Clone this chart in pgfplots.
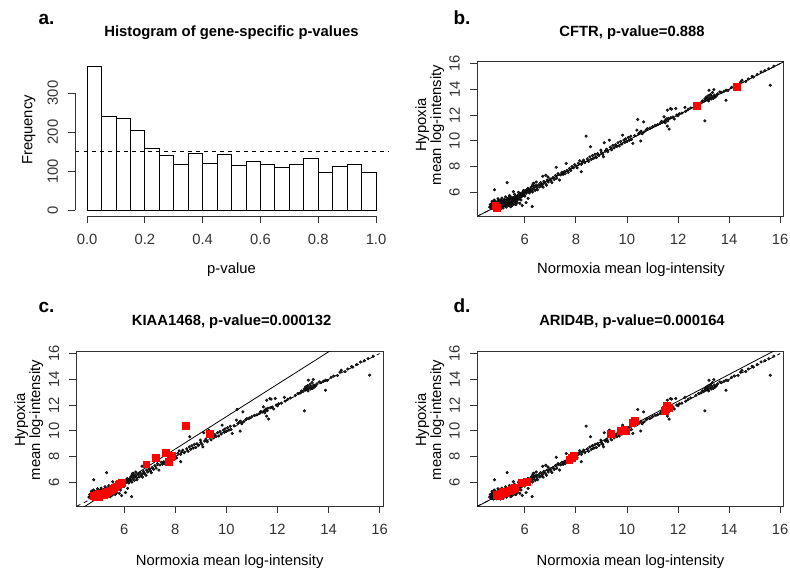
\documentclass[border=0pt]{standalone}
\usepackage{fontspec}
\setmainfont{Liberation Sans}
\usepackage{pgfplots}
\usepackage{pgfplotstable}
\pgfplotsset{compat=1.18}
\newcommand\txt{\fontsize{14.8}{17}\selectfont}
\newcommand\lett{\fontsize{19}{22}\selectfont\bfseries}
\definecolor{axgray}{gray}{0.2}
\pgfplotstableread{
x y
4.62 4.85
4.65 5.05
4.68 4.92
4.70 5.12
4.72 4.98
4.74 4.80
4.76 5.20
4.78 5.02
4.80 4.90
4.81 5.15
4.83 5.30
4.85 5.00
4.86 4.82
4.88 5.10
4.90 5.22
4.91 4.95
4.93 5.05
4.95 4.75
4.96 5.35
4.98 5.12
5.00 4.92
5.01 5.25
5.03 5.02
5.04 4.80
5.06 5.18
5.08 5.40
5.09 5.00
5.11 5.12
5.12 4.85
5.14 5.30
5.16 5.05
5.17 5.20
5.19 4.95
5.20 5.45
5.22 5.10
5.23 5.28
5.25 4.90
5.27 5.15
5.28 5.35
5.30 5.05
5.31 5.22
5.33 5.50
5.35 5.00
5.36 5.30
5.38 5.15
5.40 5.42
5.41 5.08
5.43 5.25
5.45 5.55
5.46 5.18
5.48 5.35
5.50 5.10
5.52 5.45
5.53 5.28
5.55 5.60
5.57 5.22
5.58 5.40
5.60 5.52
5.62 5.30
5.64 5.65
5.66 5.45
5.68 5.58
5.70 5.35
5.72 5.70
5.74 5.52
5.76 5.80
5.78 5.62
5.80 5.48
5.82 5.75
5.85 5.90
5.87 5.65
5.90 5.82
5.92 6.00
5.95 5.75
5.98 5.92
4.75 5.08
4.84 5.18
4.92 5.12
4.99 5.02
5.05 5.10
5.10 5.28
5.15 5.12
5.18 5.38
5.21 5.02
5.26 5.25
5.29 5.12
5.34 5.40
5.39 5.28
5.44 5.38
5.49 5.48
5.54 5.38
5.59 5.62
5.63 5.50
5.69 5.70
5.73 5.62
5.79 5.85
5.84 5.70
4.87 5.25
4.97 4.88
5.07 4.95
5.13 5.22
5.24 5.38
5.32 5.30
5.42 5.18
5.47 5.62
5.56 5.50
5.65 5.38
5.77 5.72
5.89 5.95
5.02 5.35
5.37 5.58
4.70 4.75
4.78 4.70
4.89 4.72
5.05 4.70
5.15 4.78
5.28 4.85
5.40 4.95
5.52 5.00
5.60 5.10
5.70 5.20
5.85 5.40
4.72 5.30
4.80 5.40
4.95 5.50
5.10 5.55
5.25 5.65
5.40 5.75
5.60 5.85
5.75 6.00
5.95 6.15
6.00 5.70
5.45 4.88
5.65 5.05
4.81 6.20
5.31 6.75
5.90 4.97
6.29 4.89
6.13 5.53
6.05 5.20
5.55 6.05
5.74 5.79
5.81 5.14
6.35 6.70
6.45 6.80
6.30 6.55
6.02 6.10
6.05 5.92
6.08 6.20
6.10 6.05
6.12 6.30
6.15 6.12
6.18 5.95
6.20 6.25
6.22 6.10
6.25 6.40
6.28 6.18
6.30 6.02
6.33 6.69
6.35 6.30
6.38 6.45
6.40 6.15
6.44 6.55
6.48 6.35
6.50 6.20
6.70 7.25
6.82 7.32
6.90 7.20
6.55 6.60
6.58 6.42
6.62 6.75
6.65 6.50
6.70 6.62
6.72 6.40
6.75 6.85
6.80 6.70
6.85 6.55
6.88 6.95
6.92 6.80
6.98 7.05
7.02 6.90
7.06 6.75
7.10 7.15
7.15 7.00
7.20 7.30
7.23 7.94
7.25 7.10
7.30 7.45
7.36 6.95
7.40 7.35
7.45 7.55
7.50 7.40
7.55 7.60
7.58 7.45
7.62 8.24
7.65 7.70
7.70 7.55
7.75 7.85
7.80 7.70
7.85 8.00
7.90 7.90
7.95 8.15
8.00 8.05
8.05 7.90
8.10 8.25
8.15 8.45
8.21 8.17
8.21 7.60
8.25 8.35
8.30 8.50
8.35 8.30
8.40 10.36
8.45 8.60
8.50 8.40
8.55 8.75
8.57 9.54
8.60 8.55
8.65 8.85
8.70 8.65
8.75 8.95
8.80 8.70
8.85 9.00
8.90 8.85
8.98 9.28
9.00 9.10
9.05 8.95
9.08 8.76
9.11 9.85
9.15 9.20
9.20 9.35
9.25 9.15
9.31 10.05
9.35 9.50
9.40 9.30
9.45 9.65
9.50 9.45
9.55 9.70
9.60 9.55
9.65 9.85
9.70 9.60
9.75 9.95
9.80 9.75
9.83 10.44
9.88 10.05
9.92 9.88
9.95 10.15
10.00 9.95
10.05 10.25
10.10 10.05
10.15 10.35
10.18 10.10
10.23 9.80
10.30 10.40
10.39 10.83
10.42 11.66
10.45 10.55
10.50 10.65
10.54 9.98
10.55 10.75
10.60 10.55
10.65 11.47
10.67 10.70
10.75 10.85
10.80 10.95
10.90 11.00
11.00 11.10
11.10 11.20
11.20 11.25
11.30 11.35
11.35 11.50
11.40 11.45
11.45 11.86
11.48 11.55
11.50 11.40
11.52 11.60
11.55 11.70
11.58 11.14
11.58 12.38
11.60 11.55
11.62 11.75
11.65 10.91
11.70 12.50
11.72 11.80
11.75 12.46
11.80 11.85
11.85 11.70
11.91 12.51
11.95 12.00
12.00 11.95
12.05 12.10
12.15 12.15
12.27 12.60
12.30 12.30
12.40 12.45
12.50 12.55
12.70 12.75
12.80 12.90
12.90 12.95
12.95 13.10
13.00 13.05
13.05 11.55
13.05 13.25
13.08 13.16
13.10 13.40
13.12 13.20
13.15 13.30
13.18 13.50
13.20 13.10
13.21 13.93
13.24 13.35
13.27 13.60
13.30 13.25
13.32 13.45
13.35 13.75
13.38 13.30
13.40 13.98
13.42 13.55
13.45 13.40
13.50 13.50
13.55 13.65
13.64 13.80
13.70 13.75
13.80 13.85
13.88 13.93
13.88 13.15
13.95 13.90
14.10 14.15
14.20 14.25
14.35 14.30
14.45 14.55
14.50 14.70
14.65 14.60
14.75 14.80
14.90 15.00
14.95 14.95
15.10 15.15
15.25 15.35
15.40 15.45
15.55 15.60
15.61 14.32
15.75 15.80
}\pts
\pgfplotsset{
  base/.style={
    scale only axis, anchor=south west,
    /pgf/number format/assume math mode=true,
    tick align=outside, tick pos=left,
    major tick length=7.3pt,
    tick style={axgray, line width=0.8pt},
    ticklabel style={font=\txt, text=axgray, inner sep=0pt},
    xticklabel style={anchor=north, yshift=-10.7pt},
    yticklabel style={xshift=-10pt, rotate=90, anchor=south},
  },
  scat/.style={base, width=306.5pt, height=154.5pt,
    xmin=4.14, xmax=16.14, ymin=4.16, ymax=16.16,
    xtick={6,8,10,12,14,16}, ytick={6,8,10,12,14,16},
    axis line style={axgray, line width=0.8pt},
  },
  blk/.style={only marks, black, mark=*, mark size=1.35pt, mark options={fill=black!85, draw=none}},
  redsq/.style={only marks, red, mark=square*, mark size=3.4pt, mark options={fill=red, draw=red, line width=0pt}},
  dsh/.style={black, line width=0.8pt, dash pattern=on 4pt off 4pt},
  sld/.style={black, line width=0.8pt},
}
\begin{document}
\begin{tikzpicture}[x=1pt,y=1pt]
\useasboundingbox (0,0) rectangle (790,574);
% ---- a. histogram
\begin{axis}[base, at={(75.5pt,358pt)}, width=312.1pt, height=155.4pt,
  xmin=-0.04, xmax=1.04, ymin=-14.72, ymax=382.72,
  axis lines*=left, axis line style={draw=none},
  xtick={0,0.2,0.4,0.6,0.8,1}, xticklabels={0.0,0.2,0.4,0.6,0.8,1.0},
  ytick={0,100,200,300}, clip=false]
\addplot[ybar, bar width=0.05, fill=white, draw=black, line width=0.8pt] coordinates {
(0.025,368) (0.075,240) (0.125,234) (0.175,203) (0.225,158) (0.275,141) (0.325,118) (0.375,145) (0.425,120) (0.475,143)
(0.525,115) (0.575,126) (0.625,117) (0.675,110) (0.725,118) (0.775,132) (0.825,97) (0.875,112) (0.925,117) (0.975,97)};
\addplot[dsh] coordinates {(-0.04,150) (1.04,150)};
\draw[axgray, line width=0.8pt] (axis cs:0,-14.72) -- (axis cs:1,-14.72);
\draw[axgray, line width=0.8pt] (axis cs:-0.04,0) -- (axis cs:-0.04,300);
\end{axis}
% ---- b.
\begin{axis}[scat, at={(477.3pt,358pt)}]
\addplot[blk] table {\pts};
\addplot[dsh] coordinates {(4.14,4.14) (16,16)};
\addplot[sld] coordinates {(4.14,4.14) (16.14,16.14)};
\addplot[redsq] coordinates {(4.85,4.95) (4.92,4.80) (12.75,12.72) (14.32,14.19)};
\end{axis}
% ---- c.
\begin{axis}[scat, at={(76.7pt,68pt)}]
\addplot[blk] table {\pts};
\addplot[dsh] coordinates {(4.14,4.14) (16,16)};
\addplot[sld] coordinates {(4.14,3.728) (16.14,18.824)};
\addplot[redsq] coordinates {(8.41,10.35) (9.37,9.73) (7.64,8.26) (7.24,7.90) (6.87,7.38) (7.74,7.60) (7.83,7.98) (7.88,8.02)
(4.80,4.92) (4.88,4.85) (4.95,4.95) (5.00,4.88) (5.05,5.00) (5.12,4.98) (5.18,5.08) (5.25,5.10) (5.30,5.18) (5.36,5.22)
(5.42,5.28) (5.48,5.36) (5.55,5.45) (5.62,5.55) (5.70,5.65) (5.78,5.78) (5.85,5.88) (5.91,5.95) (5.05,5.12) (5.20,5.00) (4.92,5.02)};
\end{axis}
% ---- d.
\begin{axis}[scat, at={(477.3pt,68pt)}]
\addplot[blk] table {\pts};
\addplot[dsh] coordinates {(4.14,4.14) (16,16)};
\addplot[sld] coordinates {(4.14,4.126) (16.14,16.606)};
\addplot[redsq] coordinates {(11.58,11.95) (11.52,11.65) (11.65,11.75) (11.48,11.55) (10.30,10.75) (10.22,10.58) (9.90,10.05) (9.78,10.00)
(9.96,9.95) (9.38,9.78) (7.92,8.02) (7.75,7.72) (7.85,7.88) (6.08,6.00) (5.88,5.95) (4.90,5.00) (4.98,4.95) (5.05,5.08) (5.12,5.05)
(5.20,5.15) (5.28,5.20) (5.35,5.28) (5.42,5.35) (5.50,5.40) (5.58,5.48) (5.62,5.55) (5.02,4.90) (5.15,5.22)};
\end{axis}
% ---- texts
\node[anchor=base west, font=\lett] at (35,549) {a.};
\node[anchor=base west, font=\lett] at (450,549) {b.};
\node[anchor=base west, font=\lett] at (35,262) {c.};
\node[anchor=base west, font=\lett] at (450,262) {d.};
\node[anchor=base, font=\txt\bfseries] at (231.5,537) {Histogram of gene-specific p-values};
\node[anchor=base, font=\txt\bfseries] at (632,537.5) {CFTR, p-value=0.888};
\node[anchor=base, font=\txt\bfseries] at (231.7,249) {KIAA1468, p-value=0.000132};
\node[anchor=base, font=\txt\bfseries] at (632,249) {ARID4B, p-value=0.000164};
\node[anchor=base, font=\txt] at (231.5,301) {p-value};
\node[anchor=base, font=\txt] at (631,301) {Normoxia mean log-intensity};
\node[anchor=base, font=\txt] at (229.7,9) {Normoxia mean log-intensity};
\node[anchor=base, font=\txt] at (630.5,9) {Normoxia mean log-intensity};
\node[anchor=base, font=\txt, rotate=90] at (32.3,444) {Frequency};
\node[anchor=base, font=\txt, rotate=90] at (426,449) {Hypoxia};
\node[anchor=base, font=\txt, rotate=90] at (441,449) {mean log-intensity};
\node[anchor=base, font=\txt, rotate=90] at (25,154) {Hypoxia};
\node[anchor=base, font=\txt, rotate=90] at (40,154) {mean log-intensity};
\node[anchor=base, font=\txt, rotate=90] at (426,154) {Hypoxia};
\node[anchor=base, font=\txt, rotate=90] at (441,154) {mean log-intensity};
\end{tikzpicture}
\end{document}
